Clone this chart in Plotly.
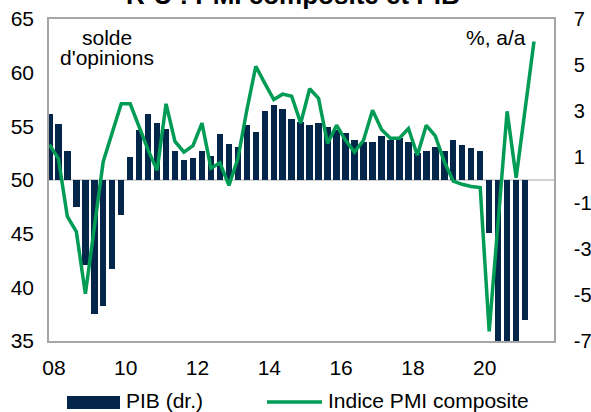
import pandas as pd
import plotly.graph_objects as go

# ---------------- data ----------------
quarters = [f"{y}Q{q}" for y in range(2007, 2022) for q in range(1, 5)][3:58]  # 2007Q4 .. 2021Q2

pmi_composite = [53.3, 52.0, 46.6, 45.2, 39.4, 45.4, 51.7, 54.4, 57.1, 57.1,
                 55.0, 52.8, 50.9, 57.1, 53.6, 52.6, 53.2, 55.3, 51.1, 51.6,
                 49.5, 52.0, 56.5, 60.6, 59.0, 57.5, 58.0, 57.8, 55.3, 58.5,
                 57.6, 53.4, 55.1, 53.7, 52.6, 53.7, 56.5, 54.7, 53.9, 53.9,
                 54.8, 52.3, 55.1, 54.1, 51.7, 49.9, 49.6, 49.4, 49.3, 35.9,
                 46.1, 56.4, 50.2, 56.3, 62.9]

pib_yoy = [2.86, 2.45, 1.28, -1.16, -3.70, -5.84, -5.48, -3.87, -1.52, 0.99,
           2.17, 2.86, 2.49, 2.20, 1.28, 0.87, 0.94, 1.28, 1.04, 1.99,
           1.57, 1.45, 2.39, 2.10, 3.01, 3.25, 3.07, 2.67, 2.54, 2.39,
           2.49, 2.32, 2.17, 2.03, 1.74, 1.67, 1.64, 1.91, 1.74, 1.81,
           1.64, 1.16, 1.28, 1.45, 1.28, 1.74, 1.52, 1.41, 1.28, -2.32,
           -21.0, -8.5, -7.3, -6.09]

x_tick_years = [2008, 2010, 2012, 2014, 2016, 2018, 2020]
x_tick_labels = ["08", "10", "12", "14", "16", "18", "20"]
left_ticks = [35, 40, 45, 50, 55, 60, 65]
right_ticks = [-7, -5, -3, -1, 1, 3, 5, 7]
right_tick_labels = ["-7", "-5", "-3", "-1", "1", "3", "5", "7"]

# ---------------- helpers ----------------
def mid_quarter(q):
    p = pd.Period(q, freq="Q")
    return p.start_time + (p.end_time - p.start_time) / 2

x_dates = [mid_quarter(q) for q in quarters]

FONT = "Liberation Sans, Arial, sans-serif"
FS = 21
BAR_COL = "#03264A"
LINE_COL = "#009B55"
FRAME_COL = "#A6A6A6"

W, H = 591, 412
L, R, T, B = 49, 37, 19, 71
PW, PH = W - L - R, H - T - B

def px_x(px):
    return (px - L) / PW

def px_y(py):
    return (H - B - py) / PH

fig = go.Figure()

fig.add_trace(go.Bar(
    x=x_dates[:len(pib_yoy)], y=pib_yoy, name="PIB (dr.)",
    marker=dict(color=BAR_COL, line=dict(width=0)),
    width=0.18 * 365.25 * 86400000,
    yaxis="y", showlegend=False,
))

fig.add_trace(go.Scatter(
    x=x_dates, y=pmi_composite, name="Indice PMI composite",
    mode="lines", line=dict(color=LINE_COL, width=3.5),
    yaxis="y2", showlegend=False,
))

fig.update_layout(
    width=W, height=H,
    margin=dict(l=L, r=R, t=T, b=B, autoexpand=False),
    paper_bgcolor="white", plot_bgcolor="white",
    font=dict(family=FONT, size=FS, color="#000000"),
    bargap=0,
    xaxis=dict(
        type="date", automargin=False,
        range=["2007-11-12", "2021-12-06"],
        tickvals=[pd.Timestamp(f"{y}-01-01") for y in x_tick_years],
        ticktext=x_tick_labels,
        showgrid=False, zeroline=False,
        showline=True, mirror=True, linecolor=FRAME_COL, linewidth=1.5,
        ticks="", ticklabelstandoff=7,
        tickfont=dict(family=FONT, size=FS, color="#000"),
    ),
    yaxis=dict(
        side="right", range=[-7, 7], tickvals=right_ticks, ticktext=right_tick_labels,
        automargin=False,
        showgrid=False, zeroline=False,
        showline=True, mirror=True, linecolor=FRAME_COL, linewidth=1.5,
        ticks="", ticklabelstandoff=14,
        tickfont=dict(family=FONT, size=20, color="#000"),
    ),
    yaxis2=dict(
        side="left", overlaying="y", range=[35, 65], tickvals=left_ticks,
        automargin=False,
        showgrid=False, zeroline=False, showline=False,
        ticks="", ticklabelstandoff=14,
        tickfont=dict(family=FONT, size=FS, color="#000"),
    ),
    shapes=[
        dict(type="line", xref="paper", yref="y", x0=0, x1=1, y0=0, y1=0,
             line=dict(color=FRAME_COL, width=1), layer="below"),
        # legend swatches
        dict(type="rect", xref="paper", yref="paper",
             x0=px_x(67), x1=px_x(120), y0=px_y(409), y1=px_y(396),
             fillcolor=BAR_COL, line=dict(width=0)),
        dict(type="line", xref="paper", yref="paper",
             x0=px_x(267), x1=px_x(322), y0=px_y(402), y1=px_y(402),
             line=dict(color=LINE_COL, width=3.5)),
    ],
    annotations=[
        dict(text="<b>R-U : PMI composite et PIB</b>", xref="paper", yref="paper",
             x=px_x(293), y=px_y(-5), xanchor="center", yanchor="middle",
             showarrow=False, font=dict(family=FONT, size=26, color="#000")),
        dict(text="solde", xref="paper", yref="paper",
             x=px_x(107), y=px_y(38), xanchor="center", yanchor="middle",
             showarrow=False, font=dict(family=FONT, size=FS, color="#000")),
        dict(text="d'opinions", xref="paper", yref="paper",
             x=px_x(107), y=px_y(58), xanchor="center", yanchor="middle",
             showarrow=False, font=dict(family=FONT, size=FS, color="#000")),
        dict(text="%, a/a", xref="paper", yref="paper",
             x=px_x(528), y=px_y(37), xanchor="right", yanchor="middle",
             showarrow=False, font=dict(family=FONT, size=FS, color="#000")),
        dict(text="PIB (dr.)", xref="paper", yref="paper",
             x=px_x(124), y=px_y(401), xanchor="left", yanchor="middle",
             showarrow=False, font=dict(family=FONT, size=FS, color="#000")),
        dict(text="Indice PMI composite", xref="paper", yref="paper",
             x=px_x(326), y=px_y(401), xanchor="left", yanchor="middle",
             showarrow=False, font=dict(family=FONT, size=FS, color="#000")),
    ],
)

fig.write_html(
    "out.html",
    config={"displayModeBar": False},
    post_script="document.body.style.margin='0';document.body.style.padding='0';",
)
